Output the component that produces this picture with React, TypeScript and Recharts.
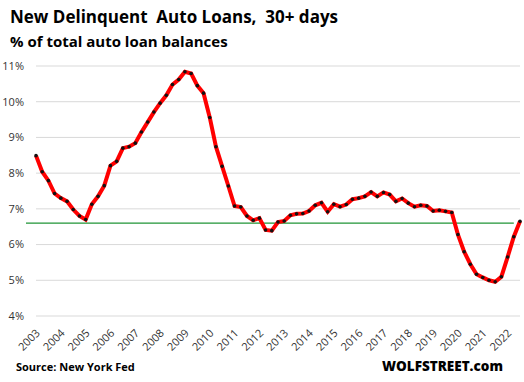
import { LineChart, Line, XAxis, YAxis, CartesianGrid, ReferenceLine } from 'recharts';

const years = [
  2003, 2004, 2005, 2006, 2007, 2008, 2009, 2010, 2011, 2012,
  2013, 2014, 2015, 2016, 2017, 2018, 2019, 2020, 2021, 2022,
];

// quarterly, 2003 Q1 .. 2022 Q3
const quarters = years.flatMap((y) => [`${y}Q1`, `${y}Q2`, `${y}Q3`, `${y}Q4`]).slice(0, 79);

const rates = [
  8.49, 8.04, 7.79, 7.43, 7.30, 7.21, 6.98, 6.80,
  6.70, 7.13, 7.35, 7.65, 8.21, 8.33, 8.70, 8.74,
  8.84, 9.15, 9.43, 9.71, 9.96, 10.18, 10.48, 10.62,
  10.84, 10.79, 10.45, 10.24, 9.56, 8.74, 8.19, 7.64,
  7.08, 7.05, 6.80, 6.68, 6.74, 6.41, 6.39, 6.63,
  6.66, 6.82, 6.86, 6.87, 6.94, 7.10, 7.17, 6.92,
  7.13, 7.06, 7.12, 7.27, 7.30, 7.35, 7.47, 7.35,
  7.46, 7.40, 7.21, 7.29, 7.16, 7.06, 7.10, 7.08,
  6.94, 6.96, 6.93, 6.90, 6.28, 5.80, 5.45, 5.17,
  5.08, 5.00, 4.96, 5.10, 5.65, 6.22, 6.65,
];

const yTicks = [4, 5, 6, 7, 8, 9, 10, 11];
const yearTicks = years.map((y) => `${y}Q1`);
const benchmark = 6.6;

const data = quarters.map((q, i) => ({ q, rate: rates[i] }));

const XTick = ({ x, y, payload }: any) => (
  <text
    x={x + 2}
    y={y + 13}
    transform={`rotate(-45 ${x + 2} ${y + 13})`}
    textAnchor="end"
    dy="0.35em"
    fontSize={11}
    fill="#333"
  >
    {String(payload.value).slice(0, 4)}
  </text>
);

const BenchLine = (props: any) => (
  <line
    x1={props.x1 - 10}
    x2={props.x2}
    y1={props.y1}
    y2={props.y2}
    stroke="#1f9436"
    strokeWidth={1.2}
  />
);

export default function App() {
  const font = '"Open Sans", "Noto Sans", sans-serif';
  return (
    <div style={{ position: 'absolute', left: 0, top: 0, width: 524, height: 382, background: '#fff', fontFamily: font }}>
      <LineChart width={524} height={382} data={data} margin={{ top: 66, right: 4, left: 0, bottom: 0 }}>
        <CartesianGrid vertical={false} stroke="#d9d9d9" strokeWidth={1} />
        <XAxis
          dataKey="q"
          ticks={yearTicks}
          interval={0}
          axisLine={false}
          tickLine={false}
          tickSize={0}
          height={66}
          tick={<XTick />}
        />
        <YAxis
          domain={[4, 11]}
          ticks={yTicks}
          width={36}
          axisLine={false}
          tickLine={false}
          tickSize={0}
          tickMargin={12}
          tickFormatter={(v) => `${v}%`}
          tick={{ fill: '#333', fontSize: 11, fontFamily: font }}
        />
        <ReferenceLine
          segment={[{ x: quarters[0], y: benchmark }, { x: quarters[77], y: benchmark }]}
          shape={<BenchLine />}
        />
        <Line
          type="linear"
          dataKey="rate"
          stroke="#ff0000"
          strokeWidth={4}
          dot={{ r: 1.8, fill: '#111', stroke: 'none' }}
          isAnimationActive={false}
        />
      </LineChart>
      <svg width={524} height={382} style={{ position: 'absolute', left: 0, top: 0, pointerEvents: 'none', whiteSpace: 'pre' }}>
        <text x={10} y={23} fontSize={17} fontWeight="bold" fontFamily={font} fill="#000" xmlSpace="preserve">
          {'New Delinquent  Auto Loans,  30+ days'}
        </text>
        <text x={10} y={47} fontSize={15} fontWeight="bold" fontFamily={font} fill="#000">
          % of total auto loan balances
        </text>
        <text x={16} y={371} fontSize={11} fontWeight="bold" fontFamily={font} fill="#000">
          Source: New York Fed
        </text>
        <text x={382} y={371} fontSize={13.5} fontWeight={800} fontFamily={font} fill="#000">
          WOLFSTREET.com
        </text>
      </svg>
    </div>
  );
}
